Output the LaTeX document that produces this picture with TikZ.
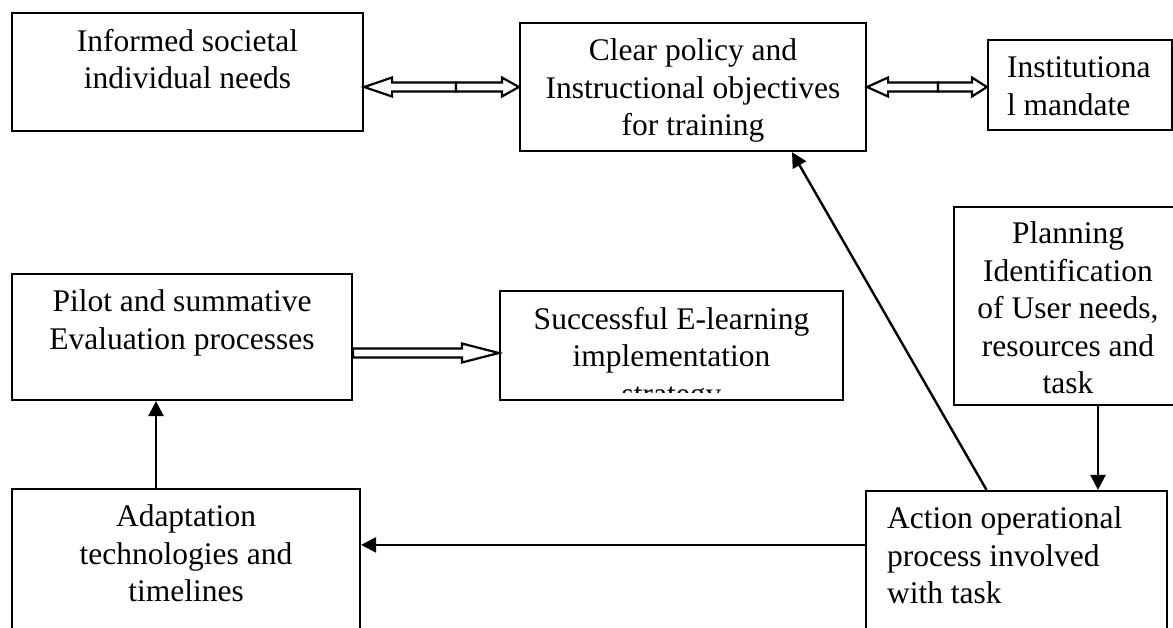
\documentclass[tikz,border=0pt]{standalone}
\usepackage{fontspec}
\setmainfont{Liberation Serif}
\usetikzlibrary{arrows.meta}
\usetikzlibrary{positioning}
\usetikzlibrary{calc}

% outlined block arrow, tail #2, tip #3, head length #1
\newcommand{\hollowarrow}[3][17pt]{%
    \draw[hollow] let \p1=(#2), \p2=(#3), \p3=($(#3)!#1!(#2)$) in
        (\x1,\y1+4.5pt) -- (\x3,\y1+4.5pt) -- (\x3,\y1+9.5pt) -- (\x2,\y2)
        -- (\x3,\y1-9.5pt) -- (\x3,\y1-4.5pt) -- (\x1,\y1-4.5pt) -- cycle;
}

\begin{document}
\begin{tikzpicture}[x=1pt, y=-1pt,
        box/.style={draw, black, line width=2.2pt, inner sep=0pt},
        txt/.style={inner sep=0pt, align=center, font=\fontsize{31.5pt}{37.5pt}\selectfont},
        hollow/.style={draw, black, fill=white, line width=2.2pt, line join=miter},
        link/.style={black, line width=2.4pt, -{Triangle[length=15pt,width=15pt]}}]
        \useasboundingbox[fill=white] (0,0) rectangle (1173,627);

        \node[box, minimum width=351pt, minimum height=118pt] (needs) at (187.5,72) {};
        \node[box, minimum width=346pt, minimum height=128pt] (policy) at (693,87) {};
        \node[box, minimum width=184pt, minimum height=90pt] (mandate) at (1080,85) {};
        \node[box, minimum width=228pt, minimum height=198pt] (plan) at (1068,306) {};
        \node[box, minimum width=340pt, minimum height=126pt] (pilot) at (182,337) {};
        \node[box, minimum width=343pt, minimum height=109pt] (success) at (671.5,345.5) {};
        \node[box, minimum width=348pt, minimum height=171pt] (adapt) at (186,574.5) {};
        \node[box, minimum width=301pt, minimum height=169pt] (action) at (1016.5,575.5) {};

        \node[txt, below=17pt of needs.north] {Informed societal\\individual needs};
        \node[txt, below=17pt of policy.north] {Clear policy and\\Instructional objectives\\for training};
        \node[txt, align=left, below right=18pt and 20pt of mandate.north west] {Institutiona\\l mandate};
        \node[txt, below=16pt of plan.north] {Planning\\Identification\\of User needs,\\resources and\\task};
        \node[txt, below=17pt of pilot.north] {Pilot and summative\\Evaluation processes};
        \begin{scope}
            \clip (success.north west) rectangle ([yshift=9pt]success.south east);
            \node[txt, below=17pt of success.north] {Successful E-learning\\implementation\\strategy};
        \end{scope}
        \node[txt, below=17pt of adapt.north] {Adaptation\\technologies and\\timelines};
        \node[txt, align=left, below right=17pt and 22pt of action.north west] {Action operational\\process involved\\with task};

        % block arrows
        \coordinate (tickA) at (456,87);
        \coordinate (tickB) at (938,87);
        \coordinate (needsin) at (tickA -| needs.east);
        \coordinate (policyinL) at (tickA -| policy.west);
        \coordinate (policyinR) at (tickB -| policy.east);
        \coordinate (mandatein) at (tickB -| mandate.west);
        \coordinate (evalout) at ([yshift=-16pt]pilot.east);
        \coordinate (evalin) at (evalout -| success.west);
        \hollowarrow[28pt]{tickA}{needsin}
        \hollowarrow[17pt]{tickA}{policyinL}
        \hollowarrow[21pt]{tickB}{policyinR}
        \hollowarrow[15pt]{tickB}{mandatein}
        \hollowarrow[37pt]{evalout}{evalin}

        % plain arrows
        \draw[link] ([xshift=30pt]plan.south) -- ([xshift=30pt]plan.south |- action.north);
        \draw[link] ([xshift=-30pt]action.north) -- ([xshift=99pt]policy.south);
        \draw[link] ([yshift=-55pt]action.north west) -- ([yshift=-55pt]action.north west -| adapt.east);
        \draw[link] ([xshift=-30pt]adapt.north) -- ([xshift=-30pt]adapt.north |- pilot.south);
    \end{tikzpicture}
\end{document}
